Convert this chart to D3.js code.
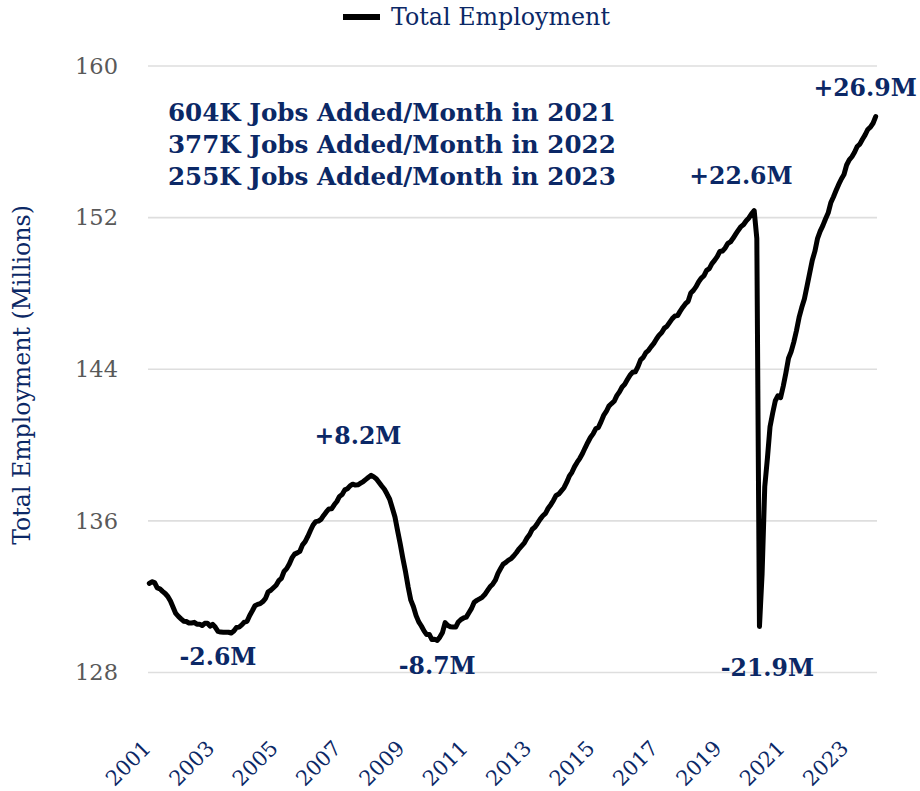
<!DOCTYPE html>
<html>
<head>
<meta charset="utf-8">
<script src="https://cdn.jsdelivr.net/npm/d3@7/dist/d3.min.js"></script>
<style>
  html, body { margin: 0; padding: 0; background: #ffffff; }
  svg { display: block; }
</style>
</head>
<body>
<svg id="chart" width="920" height="791"></svg>
<script>
// ---------------- DATA ----------------
// Monthly total employment (thousands), Jan 2001 .. Dec 2023
const startYear = 2001;
const employment = [
  // 2001
  132698,132789,132747,132463,132416,132282,132167,132011,131767,131440,131118,130961,
  // 2002
  130831,130707,130689,130612,130614,130645,130551,130552,130478,130595,130600,130449,
  // 2003
  130544,130386,130173,130134,130124,130128,130123,130081,130188,130375,130395,130511,
  // 2004
  130661,130701,131009,131258,131523,131594,131633,131744,131910,132258,132340,132473,
  // 2005
  132604,132845,132970,133330,133480,133727,134047,134246,134312,134395,134735,134901,
  // 2006
  135180,135490,135781,135960,135985,136080,136286,136470,136632,136634,136849,137021,
  // 2007
  137289,137392,137636,137698,137848,137935,137889,137905,137992,138075,138187,138300,
  // 2008
  138403,138321,138210,138027,137840,137666,137416,137141,136683,136201,135482,134777,
  // 2009
  134014,133311,132512,131816,131468,131000,130670,130453,130198,130000,130009,129737,
  // 2010
  129753,129697,129870,130114,130630,130483,130413,130403,130395,130667,130799,130877,
  // 2011
  130921,131157,131383,131705,131806,131885,131969,132112,132317,132521,132659,132868,
  // 2012
  133232,133488,133723,133812,133932,134011,134161,134333,134525,134686,134844,135091,
  // 2013
  135281,135560,135677,135877,136092,136271,136400,136665,136854,137077,137343,137413,
  // 2014
  137579,137750,138027,138358,138564,138863,139097,139300,139551,139855,140136,140399,
  // 2015
  140591,140857,140928,141223,141563,141772,142057,142190,142313,142606,142806,143066,
  // 2016
  143211,143453,143687,143842,143867,144139,144497,144626,144879,144999,145195,145367,
  // 2017
  145598,145800,145941,146170,146273,146474,146671,146811,146829,147067,147274,147458,
  // 2018
  147586,148022,148162,148357,148618,148812,148937,149218,149311,149570,149742,149946,
  // 2019
  150211,150242,150393,150637,150717,150908,151128,151338,151526,151640,151838,151983,
  // 2020
  152198,152371,150895,130424,133221,137793,139292,140969,141685,142339,142600,142503,
  // 2021
  143103,143803,144583,144933,145433,146033,146733,147253,147703,148383,149063,149750,
  // 2022
  150230,150910,151290,151580,151930,152240,152780,153090,153430,153750,154040,154274,
  // 2023
  154777,155046,155213,155451,155753,155879,156136,156367,156650,156776,156979,157333
];

const seriesName = "Total Employment";
const yAxisTitle = "Total Employment (Millions)";
const yTicks = [128, 136, 144, 152, 160];
const yDomain = [128, 160];
const xTickYears = ["2001","2003","2005","2007","2009","2011","2013","2015","2017","2019","2021","2023"];

const summaryLines = [
  "604K Jobs Added/Month in 2021",
  "377K Jobs Added/Month in 2022",
  "255K Jobs Added/Month in 2023"
];

// Change annotations, anchored in data space (month, value in millions)
const annoText  = ["+8.2M",   "-2.6M",   "-8.7M",   "+22.6M",  "-21.9M",  "+26.9M"];
const annoMonth = ["2007-08", "2003-03", "2010-02", "2019-09", "2020-07", "2023-08"];
const annoValue = [140.06,    128.38,    127.92,    153.78,    127.82,    158.42];

// ---------------- LAYOUT ----------------
const navy = "#0b2866";
const font = "'DejaVu Serif', Georgia, serif";
const plot = { left: 148, right: 877, top: 66, bottom: 672.5 };

const svg = d3.select("#chart");
const fmt = d3.timeFormat("%Y-%m");
const months = employment.map((_, i) => fmt(new Date(startYear, i, 1)));
const values = employment.map(v => v / 1000);

const x = d3.scaleBand().domain(months).range([plot.left, plot.right]);
const xc = m => x(m) + x.bandwidth() / 2;
const y = d3.scaleLinear().domain(yDomain).range([plot.bottom, plot.top]);

function fit(sel, target) {
  const node = sel.node();
  const size = parseFloat(sel.attr("font-size"));
  const len = node.getComputedTextLength();
  const ns = size * target / len;
  sel.attr("font-size", ns);
  return ns;
}

// gridlines
svg.append("g")
  .selectAll("line")
  .data(yTicks)
  .join("line")
  .attr("x1", plot.left).attr("x2", plot.right)
  .attr("y1", d => y(d)).attr("y2", d => y(d))
  .attr("stroke", "#dedede").attr("stroke-width", 1.6);

// y axis labels
const yAxis = svg.append("g")
  .attr("transform", `translate(${plot.left},0)`)
  .call(d3.axisLeft(y).tickValues(yTicks).tickSize(0).tickPadding(30).tickFormat(d3.format("d")));
yAxis.select(".domain").remove();
yAxis.selectAll("text")
  .attr("font-family", font).attr("font-size", 22.5).attr("fill", "#595959");

// x axis labels
const xAxis = svg.append("g")
  .attr("transform", `translate(0,${plot.bottom})`)
  .call(d3.axisBottom(x)
    .tickValues(xTickYears.map(yr => yr + "-01"))
    .tickSize(0)
    .tickFormat(m => m.slice(0, 4)));
xAxis.select(".domain").remove();
xAxis.selectAll("text")
  .attr("font-family", font).attr("font-size", 21).attr("fill", navy)
  .attr("text-anchor", "end")
  .attr("x", 0).attr("y", 0).attr("dy", 0)
  .attr("transform", "translate(3,77) rotate(-45)");

// y axis title
const yt = svg.append("text")
  .attr("transform", "translate(30,375) rotate(-90)")
  .attr("text-anchor", "middle")
  .attr("font-family", font).attr("font-size", 22).attr("fill", navy)
  .text(yAxisTitle);
fit(yt, 340);

// line
const line = d3.line()
  .x((d, i) => xc(months[i]))
  .y(d => y(d));
svg.append("path")
  .datum(values)
  .attr("d", line)
  .attr("fill", "none")
  .attr("stroke", "#000")
  .attr("stroke-width", 5)
  .attr("stroke-linejoin", "round")
  .attr("stroke-linecap", "round");

// legend
svg.append("line")
  .attr("x1", 343).attr("x2", 380).attr("y1", 17).attr("y2", 17)
  .attr("stroke", "#000").attr("stroke-width", 6);
const lt = svg.append("text")
  .attr("x", 391).attr("y", 25)
  .attr("font-family", font).attr("font-size", 22).attr("fill", navy)
  .text(seriesName);
fit(lt, 219);

// summary block
const sumG = svg.append("g");
const sumText = sumG.selectAll("text")
  .data(summaryLines)
  .join("text")
  .attr("x", 168)
  .attr("y", (d, i) => 121 + i * 32)
  .attr("font-family", font).attr("font-weight", "bold")
  .attr("font-size", 22).attr("fill", navy)
  .text(d => d);
const s0 = fit(d3.select(sumText.nodes()[0]), 448);
sumText.attr("font-size", s0);

// annotations
const annG = svg.append("g");
const ann = annG.selectAll("text")
  .data(annoText)
  .join("text")
  .attr("x", (d, i) => xc(annoMonth[i]))
  .attr("y", (d, i) => y(annoValue[i]))
  .attr("text-anchor", "middle")
  .attr("font-family", font).attr("font-weight", "bold")
  .attr("font-size", 24).attr("fill", navy)
  .text(d => d);
const a0 = fit(d3.select(ann.nodes()[0]), 87);
ann.attr("font-size", a0);
</script>
</body>
</html>
